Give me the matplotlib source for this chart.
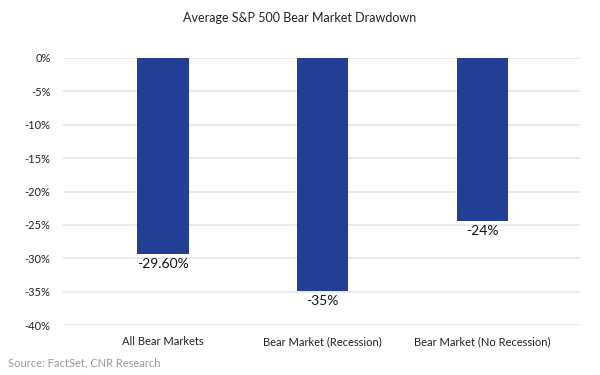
import matplotlib
matplotlib.use("Agg")
import matplotlib.pyplot as plt
from matplotlib.ticker import FuncFormatter

categories = ["All Bear Markets", "Bear Market (Recession)", "Bear Market (No Recession)"]
values = [-29.4, -34.9, -24.4]
value_labels = ["-29.60%", "-35%", "-24%"]
yticks = [0, -5, -10, -15, -20, -25, -30, -35, -40]

plt.rcParams['font.family'] = ['Lato', 'DejaVu Sans']

fig = plt.figure(figsize=(6, 3.75), dpi=100)
ax = fig.add_axes([63/600, 1-325/375, (580-63)/600, (325-58)/375])

x = list(range(len(categories)))
ax.bar(x, values, width=0.32, color="#233f95", zorder=3)
for xi, v, lab in zip(x, values, value_labels):
    ax.annotate(lab, (xi, v), xytext=(0, -3), textcoords="offset points",
                ha="center", va="top", fontsize=10, color="#111111")

ax.set_ylim(-40, 0)
ax.set_xlim(-0.627, 2.614)
ax.set_yticks(yticks)
ax.yaxis.set_major_formatter(FuncFormatter(lambda v, p: f"{v:.0f}%"))
ax.set_xticks(x)
ax.set_xticklabels(categories)
ax.grid(axis="y", color="#e6e6e6", linewidth=1.2, zorder=0)
for s in ax.spines.values():
    s.set_visible(False)
ax.tick_params(axis="both", length=0, labelsize=8, colors="#222222")
ax.tick_params(axis="y", pad=9)
ax.tick_params(axis="x", pad=8)

fig.text(0.5, 1-18/375, "Average S&P 500 Bear Market Drawdown", ha="center", va="center",
         fontsize=9, color="#222222")
fig.text(8/600, 1-363/375, "Source: FactSet, CNR Research", ha="left", va="center",
         fontsize=8, color="#999999")

fig.savefig("out.png", dpi=100)
